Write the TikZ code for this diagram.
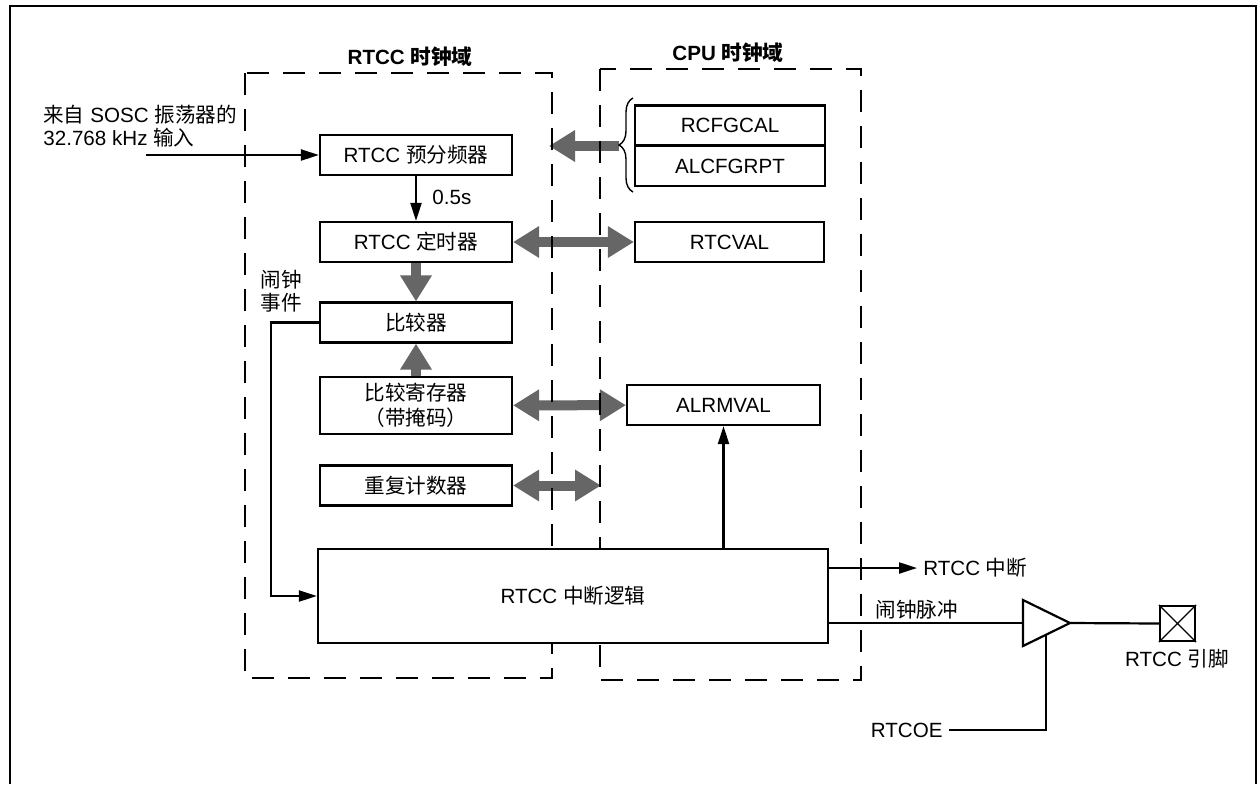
\documentclass[tikz,border=0pt]{standalone}
\usepackage{fontspec}
\setmainfont{Liberation Sans}
\newfontfamily\cjk{Noto Sans CJK SC}
\usetikzlibrary{arrows.meta, decorations.pathreplacing, backgrounds}
\definecolor{grisBus}{RGB}{102,102,102}
\newcommand{\hz}[1]{{\cjk #1}}

\begin{document}
\begin{tikzpicture}[
    x=0.5pt, y=-0.5pt,
    font=\fontsize{10.3}{11.5}\selectfont,
    % cajas de registros y bloques
    caja/.style={draw=black, line width=1.1pt, fill=white, minimum width=96pt, minimum height=20pt, inner sep=0pt, align=center},
    etiqueta/.style={inner sep=0pt, align=left},
    titulo/.style={font=\bfseries\fontsize{10.3}{12}\selectfont},
    dominio/.style={line width=1.3pt, dash pattern=on 11pt off 7pt},
    linea/.style={line width=1.1pt},
    flecha/.style={-{Triangle[length=9pt, width=5.5pt]}, line width=1.1pt},
    % flechas grises de bus
    bus/.style={-{Triangle[length=13pt, width=15pt]}, draw=grisBus, line width=5pt},
    busDoble/.style={{Triangle[length=13pt, width=15pt]}-{Triangle[length=13pt, width=15pt]}, draw=grisBus, line width=5pt}
]
    \useasboundingbox (0,0) rectangle (1260,784);

    % --- MARCO ---
    \draw[line width=1.3pt] (10,784) |- (1256,6) -- (1256,784);

    % --- DOMINIO RTCC ---
    \node[titulo] (tituloRtcc) at (410,57) {RTCC \hz{时钟域}};
    \node[caja] (preesc)       at (416,155)   {RTCC \hz{预分频器}};
    \node[caja] (temporizador) at (416,242)   {RTCC \hz{定时器}};
    \node[caja] (comparador)   at (416,322.5) {\hz{比较器}};
    \node[caja, minimum height=28.5pt] (regComp) at (416,405.5) {\hz{比较寄存器}\\[1pt]\hz{（带掩码）}};
    \node[caja] (contRep)      at (416,485.5) {\hz{重复计数器}};
    \node[caja, minimum width=255pt, minimum height=47pt] (logicaInt) at (573,596) {RTCC \hz{中断逻辑}};

    % --- DOMINIO CPU ---
    \node[titulo] (tituloCpu) at (728,53) {CPU \hz{时钟域}};
    \node[caja, minimum width=95pt] (rcfgcal)  at (730,125.5) {RCFGCAL};
    \node[caja, minimum width=95pt] (alcfgrpt) at (730,166)   {ALCFGRPT};
    \node[caja, minimum width=94.5pt] (rtcval) at (729.5,242) {RTCVAL};
    \node[caja, minimum width=96.5pt] (alrmval) at (723.5,405) {ALRMVAL};
    \draw[line width=0.7pt, decorate, decoration={brace, amplitude=7pt}] (633,192) -- (633,98);

    % --- ENTRADA Y SEÑALES ---
    \node[etiqueta, anchor=west] (entrada) at (43,126.5) {\hz{来自} SOSC \hz{振荡器的}\\32.768 kHz \hz{输入}};
    \coordinate (inicioEnt) at (146,155);
    \draw[flecha] (inicioEnt) -- (preesc.west);

    \draw[flecha] (preesc) -- (temporizador);
    \node[etiqueta, anchor=west] (medioSeg) at (432,197) {0.5s};

    \node[etiqueta, anchor=west] (evento) at (260,291.5) {\hz{闹钟}\\\hz{事件}};
    \coordinate (giro) at (271,322.5);
    \draw[flecha] (comparador.west) -- (giro) |- (logicaInt.west);

    \draw[flecha] (logicaInt.north -| alrmval.south) -- (alrmval.south);

    \node[etiqueta, anchor=west, inner sep=3pt] (rtccInt) at (917,568) {RTCC \hz{中断}};
    \draw[flecha] (logicaInt.east |- rtccInt.west) -- (rtccInt.west);

    % --- SALIDA AL PIN ---
    \coordinate (bufIzq)   at (1023,623);
    \coordinate (bufPunta) at (1070,623);
    \coordinate (bufAbajo) at (1046,634);
    \draw[linea] (1023,600) -- (bufPunta) -- (1023,646) -- cycle;
    \draw[linea] (logicaInt.east |- bufIzq) -- (bufIzq);
    \node[etiqueta, anchor=west] (pulso) at (875,610) {\hz{闹钟脉冲}};

    \node[draw, line width=1.1pt, minimum size=17.5pt, inner sep=0pt] (pin) at (1177.5,623.5) {};
    \draw[line width=0.6pt] (pin.north west) -- (pin.south east) (pin.north east) -- (pin.south west);
    \draw[linea] (bufPunta) -- (pin.west);
    \node[etiqueta] (nombrePin) at (1177,659) {RTCC \hz{引脚}};

    \node[etiqueta, anchor=east, inner sep=3pt] (rtcoe) at (949,730) {RTCOE};
    \draw[linea] (rtcoe.east) -| (bufAbajo);

    % --- BUSES (debajo de las cajas) ---
    \begin{scope}[on background layer]
        \coordinate (puntaLlave) at (619,146);
        \coordinate (finPre) at (549,146);
        \draw[bus] (puntaLlave) -- (finPre);
        \draw[busDoble] (temporizador) -- (rtcval);
        \draw[bus] (temporizador) -- (comparador);
        \draw[bus] (regComp) -- (comparador);
        \draw[busDoble] (regComp) -- (alrmval);
        \coordinate (finRep) at (601,485.5);
        \draw[busDoble] (contRep) -- (finRep);

        \draw[dominio] (245,73) rectangle (552,678);
        \draw[dominio] (600,69) rectangle (861,680);
    \end{scope}

\end{tikzpicture}
\end{document}
